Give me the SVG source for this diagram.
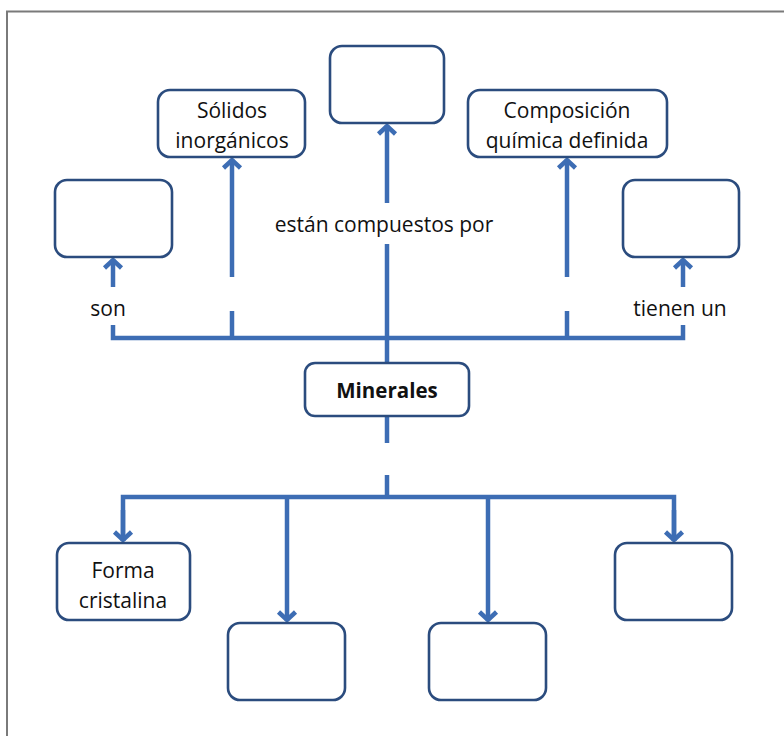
<svg xmlns="http://www.w3.org/2000/svg" width="784" height="736" viewBox="0 0 784 736">
<style>
.box{fill:#fff;stroke:#2b4c7e;stroke-width:2.6}
.ln{fill:none;stroke:#3d6db4;stroke-width:4.5;stroke-linecap:butt}
.t{font-family:"Open Sans","Noto Sans",sans-serif;font-size:21px;fill:#111;text-anchor:middle}
.b{font-weight:bold;font-size:20.5px}
</style>
<defs>
<marker id="ah" markerUnits="userSpaceOnUse" markerWidth="24" markerHeight="24" viewBox="-14 -12 18 24" refX="0" refY="0" orient="auto">
<path d="M-9,-8.5 L-1,0 L-9,8.5" fill="none" stroke="#3d6db4" stroke-width="4.5" stroke-linejoin="miter"/>
</marker>
</defs>
<rect width="784" height="736" fill="#fff"/>
<path d="M7,736 V11.5 H784" fill="none" stroke="#7a7a7a" stroke-width="2"/>
<g id="connectors">
<path class="ln" d="M113,325 V338 H683 V325"/>
<path class="ln" d="M232,338 V311"/>
<path class="ln" d="M567,338 V311"/>
<path class="ln" marker-end="url(#ah)" d="M113,287 V259"/>
<path class="ln" marker-end="url(#ah)" d="M683,287 V259"/>
<path class="ln" marker-end="url(#ah)" d="M232,277 V159"/>
<path class="ln" marker-end="url(#ah)" d="M567,277 V159"/>
<path class="ln" d="M387,363 V244"/>
<path class="ln" marker-end="url(#ah)" d="M387,203 V125"/>
<path class="ln" d="M387,416 V443"/>
<path class="ln" d="M387,475 V497"/>
<path class="ln" d="M123,541 V497 H674 V541"/>
<path class="ln" marker-end="url(#ah)" d="M123,510 V541"/>
<path class="ln" marker-end="url(#ah)" d="M674,510 V541"/>
<path class="ln" marker-end="url(#ah)" d="M287,497 V621"/>
<path class="ln" marker-end="url(#ah)" d="M488,497 V621"/>
</g>
<g id="lbl-son"><text class="t" x="108" y="316">son</text></g>
<g id="lbl-tienen"><text class="t" x="680" y="316">tienen un</text></g>
<g id="lbl-compuestos"><text class="t" x="384" y="232">están compuestos por</text></g>
<g id="n-top"><rect class="box" x="330" y="46" width="114" height="77" rx="12"/></g>
<g id="n-solidos"><rect class="box" x="158" y="90" width="147" height="67" rx="12"/>
<text class="t" x="232" y="118">Sólidos</text><text class="t" x="232" y="148">inorgánicos</text></g>
<g id="n-composicion"><rect class="box" x="468" y="90" width="199" height="67" rx="12"/>
<text class="t" x="567" y="118">Composición</text><text class="t" x="567" y="148">química definida</text></g>
<g id="n-left"><rect class="box" x="55" y="180" width="117" height="77" rx="12"/></g>
<g id="n-right"><rect class="box" x="623" y="180" width="116" height="77" rx="12"/></g>
<g id="n-minerales"><rect class="box" x="305" y="363" width="164" height="53" rx="10"/>
<text class="t b" x="387" y="398">Minerales</text></g>
<g id="n-forma"><rect class="box" x="57" y="543" width="133" height="77" rx="12"/>
<text class="t" x="123" y="578">Forma</text><text class="t" x="123" y="608">cristalina</text></g>
<g id="n-b2"><rect class="box" x="228" y="623" width="117" height="77" rx="12"/></g>
<g id="n-b3"><rect class="box" x="429" y="623" width="117" height="77" rx="12"/></g>
<g id="n-b4"><rect class="box" x="615" y="543" width="117" height="77" rx="12"/></g>
</svg>
